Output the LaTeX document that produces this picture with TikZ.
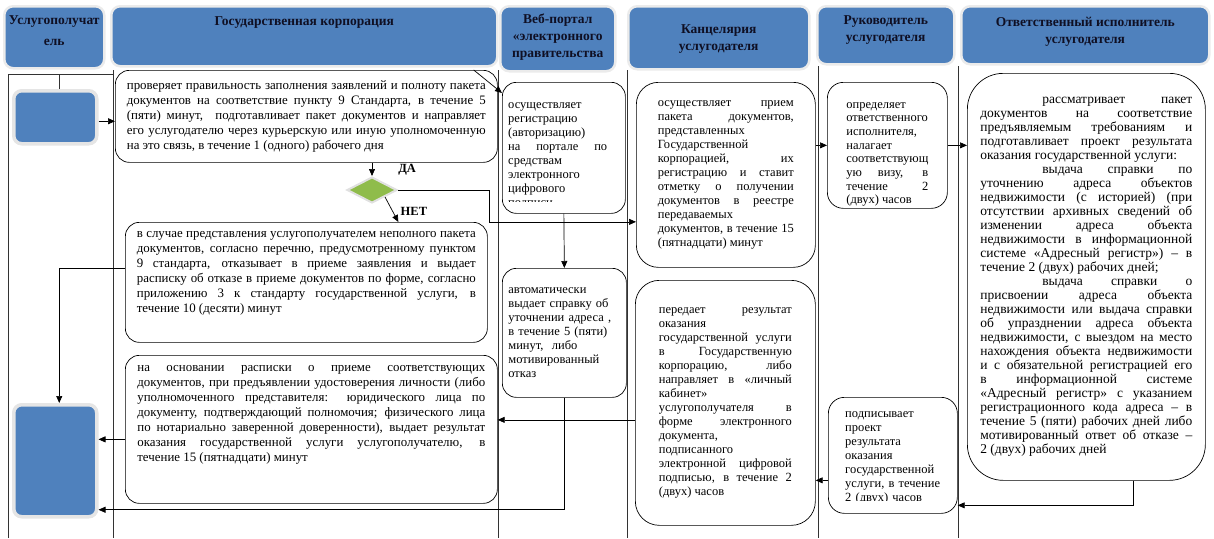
\documentclass[tikz,border=0pt]{standalone}
\usepackage{fontspec}
\setmainfont{Liberation Serif}
\usetikzlibrary{shapes.geometric, arrows.meta, positioning, calc}
\definecolor{laneblue}{RGB}{79,129,189}
\definecolor{decgreen}{RGB}{143,188,75}
\definecolor{hdrink}{RGB}{15,15,35}

\begin{document}
\begin{tikzpicture}[
    x=1pt, y=-1pt,
    header/.style={rectangle, rounded corners=9pt, fill=laneblue, draw=black!8, line width=2.5pt, anchor=north west},
    hdrtext/.style={font=\fontsize{13.5}{17}\selectfont\bfseries, text=hdrink, align=center, inner sep=0pt},
    client/.style={rectangle, rounded corners=8pt, fill=laneblue, draw=black!10, line width=3.5pt, anchor=north west},
    box/.style={rectangle, rounded corners=14pt, draw, line width=0.7pt, fill=white, anchor=north west, inner sep=0pt, font=\fontsize{12.5}{14}\selectfont, align=justify},
    corpfont/.style={font=\fontsize{12.9}{15}\selectfont},
    txt/.style={inner sep=0pt, anchor=north west, font=\fontsize{12.5}{14}\selectfont},
    decision/.style={diamond, minimum width=50pt, minimum height=26pt, inner sep=0pt, fill=decgreen, draw=black!12, line width=2pt},
    lane/.style={line width=0.7pt, black!80},
    arr/.style={-{Triangle[length=7pt, width=6pt]}, line width=0.7pt},
    tag/.style={font=\fontsize{12.5}{14}\selectfont\bfseries, inner sep=0pt},
]
\useasboundingbox (0,0) rectangle (1214,538);

% swimlanes
\coordinate (laneTop) at (58,74);
\draw[lane] (8,538) -- (8,74) -- (113,74);
\foreach \x/\top in {113/70, 498/70, 627/70, 818/66, 958/66}
    \draw[lane] (\x,\top) -- (\x,538);

% lane headers
\node[header, minimum width=100pt, minimum height=62pt] (hClient) at (3,5) {};
\node[hdrtext, below=10pt of hClient.north] {Услугополучат\\[4pt]ель};
\node[header, minimum width=386pt, minimum height=60pt] (hCorp) at (110,5) {};
\node[hdrtext, below=11pt of hCorp.north] {Государственная корпорация};
\node[header, minimum width=115pt, minimum height=65pt] (hPortal) at (499,5) {};
\node[hdrtext, below=9pt of hPortal.north] {Веб-портал\\«электронного\\правительства};
\node[header, minimum width=181pt, minimum height=63pt] (hOffice) at (627,5) {};
\node[hdrtext, below=19pt of hOffice.north] {Канцелярия\\услугодателя};
\node[header, minimum width=137pt, minimum height=58pt] (hHead) at (816,5) {};
\node[hdrtext, below=10pt of hHead.north] {Руководитель\\услугодателя};
\node[header, minimum width=248pt, minimum height=58pt] (hExec) at (960,5) {};
\node[hdrtext, below=12pt of hExec.north] {Ответственный исполнитель\\услугодателя};

% service recipient
\node[client, minimum width=83pt, minimum height=53pt] (client1) at (12,89) {};
\node[client, minimum width=83pt, minimum height=112pt] (client2) at (12,403) {};

% state corporation
\node[box, corpfont, minimum width=382pt, minimum height=92pt, text width=359pt] (corpCheck) at (115,70)
    {проверяет правильность заполнения заявлений и полноту пакета\linebreak
     документов на соответствие пункту 9 Стандарта, в течение 5\linebreak
     (пяти) минут,~ подготавливает пакет документов и направляет\linebreak
     его услугодателю через курьерскую или иную уполномоченную\linebreak
     на это связь, в течение 1 (одного) рабочего дня};
\node[decision] (check) at (372,190) {};
\node[box, corpfont, minimum width=362pt, minimum height=120pt, text width=339pt] (corpRefuse) at (125,222)
    {в случае представления услугополучателем неполного пакета\linebreak
     документов, согласно перечню, предусмотренному пунктом\linebreak
     9 стандарта, отказывает в приеме заявления и выдает\linebreak
     расписку об отказе в приеме документов по форме, согласно\linebreak
     приложению 3 к стандарту государственной услуги, в\linebreak
     течение 10 (десяти) минут\par\vspace{6pt}\mbox{}};
\node[box, corpfont, minimum width=372pt, minimum height=148pt, text width=348pt] (corpIssue) at (125,355)
    {на основании расписки о приеме соответствующих\linebreak
     документов, при предъявлении удостоверения личности (либо\linebreak
     уполномоченного представителя: юридического лица по\linebreak
     документу, подтверждающий полномочия; физического лица\linebreak
     по нотариально заверенной доверенности), выдает результат\linebreak
     оказания государственной услуги услугополучателю, в\linebreak
     течение 15 (пятнадцати) минут\par\vspace{16pt}\mbox{}};

% e-government portal
\node[box, minimum width=123pt, minimum height=131pt] (portalReg) at (502,82) {};
\begin{scope}
    \clip (portalReg.north west) rectangle ([yshift=12pt]portalReg.south east);
    \node[txt, text width=99pt, align=justify] at ([shift={(6pt,-16pt)}]portalReg.north west)
        {\strut осуществляет\linebreak регистрацию\linebreak (авторизацию)\linebreak
         на портале по\linebreak средствам\linebreak электронного\linebreak цифрового\linebreak подписи};
\end{scope}
\node[box, minimum width=124pt, minimum height=129pt, text width=112pt, align=left] (portalRef) at (502,268)
    {автоматически\\выдает справку об\\уточнении адреса ,\\в течение 5 (пяти)\\минут,~ либо\\мотивированный\\отказ};

% office of the service provider
\node[box, rounded corners=22pt, minimum width=179pt, minimum height=185pt, text width=136pt] (officeReg) at (636,82)
    {осуществляет прием\linebreak пакета документов,\linebreak представленных\linebreak
     Государственной\linebreak корпорацией, их\linebreak регистрацию и ставит\linebreak
     отметку о получении\linebreak документов в реестре\linebreak передаваемых\linebreak
     документов, в течение 15\linebreak (пятнадцати) минут};
\node[box, rounded corners=24pt, minimum width=180pt, minimum height=245pt, text width=133pt] (officeSend) at (635,280)
    {передает результат\linebreak оказания\linebreak государственной услуги\linebreak
     в Государственную\linebreak корпорацию, либо\linebreak направляет в «личный\linebreak
     кабинет»\linebreak услугополучателя в\linebreak форме электронного\linebreak
     документа,\linebreak подписанного\linebreak электронной цифровой\linebreak
     подписью, в течение 2\linebreak (двух) часов};

% head of the service provider
\node[box, rounded corners=16pt, minimum width=120pt, minimum height=126pt, text width=82pt, font=\fontsize{12.5}{13.7}\selectfont] (headAssign) at (827,82)
    {\rule{0pt}{24pt}определяет\linebreak ответственного\linebreak исполнителя,\linebreak налагает\linebreak
     соответствующ\linebreak ую визу, в\linebreak течение 2\linebreak (двух) часов};
\node[box, rounded corners=16pt, minimum width=129pt, minimum height=116pt] (headSign) at (828,397) {};
\begin{scope}
    \clip (headSign.north west) rectangle ([yshift=13pt]headSign.south east);
    \node[txt, text width=105pt, align=left] at ([shift={(17pt,-10pt)}]headSign.north west)
        {\strut подписывает\\проект\\результата\\оказания\\государственной\\услуги, в течение\\2 (двух) часов};
\end{scope}

% responsible executor
\node[box, rounded corners=36pt, minimum width=238pt, minimum height=407pt, text width=212pt, font=\fontsize{13.5}{14}\selectfont] (execReview) at (967,73)
    {\hspace*{62pt}рассматривает пакет\linebreak документов на соответствие\linebreak
     предъявляемым требованиям и\linebreak подготавливает проект результата\linebreak
     оказания государственной услуги:\par
     \hspace*{62pt}выдача справки по\linebreak уточнению адреса объектов\linebreak
     недвижимости (с историей) (при\linebreak отсутствии архивных сведений об\linebreak
     изменении адреса объекта\linebreak недвижимости в информационной\linebreak
     системе «Адресный регистр») – в\linebreak течение 2 (двух) рабочих дней;\par
     \hspace*{62pt}выдача справки о\linebreak присвоении адреса объекта\linebreak
     недвижимости или выдача справки\linebreak об упразднении адреса объекта\linebreak
     недвижимости, с выездом на место\linebreak нахождения объекта недвижимости\linebreak
     и с обязательной регистрацией его\linebreak в информационной системе\linebreak
     «Адресный регистр» с указанием\linebreak регистрационного кода адреса – в\linebreak
     течение 5 (пяти) рабочих дней либо\linebreak мотивированный ответ об отказе –\linebreak
     2 (двух) рабочих дней};

% connectors
\draw[lane] ([xshift=4pt]client1.north) -- ([xshift=4pt]client1.north |- laneTop);
\draw[arr] ([yshift=-4pt]client1.east) -- ([yshift=-4pt]client1.east -| corpCheck.west);
\draw[arr] ([xshift=-24pt]corpCheck.north east) -- ([yshift=-11pt]portalReg.north west);
\draw[arr] (check.north |- corpCheck.south) -- (check.north) node[tag, midway, right=26pt] {ДА};
\draw[arr] (check.east) -- ++(91,0) |- ([yshift=-47pt]officeReg.west);
\draw[arr] (check.south east) -- ([xshift=92pt]corpRefuse.north) node[tag, pos=0.7, right=6pt, yshift=3pt] {НЕТ};
\draw[arr] (portalReg.south) -- (portalRef.north);
\draw[arr] ([yshift=14pt]corpRefuse.west) -| ([xshift=4pt]client2.north);
\draw[arr] ([yshift=-10pt]corpIssue.west) -- ([yshift=-10pt]corpIssue.west -| client2.east);
\draw[arr] (portalRef.south) |- ([yshift=-49pt]client2.east);
\draw[arr] (officeReg.east |- headAssign.west) -- (headAssign.west);
\draw[arr] (headAssign.east) -- (headAssign.east -| execReview.west);
\draw[arr] ([xshift=47pt]execReview.south) |- ([yshift=-50pt]headSign.east);
\draw[arr] ([yshift=-25pt]headSign.west) -- ([yshift=-25pt]headSign.west -| officeSend.east);
\draw[arr] ([yshift=-17pt]officeSend.west) -- ([yshift=-17pt]officeSend.west -| corpIssue.east);

\end{tikzpicture}
\end{document}
